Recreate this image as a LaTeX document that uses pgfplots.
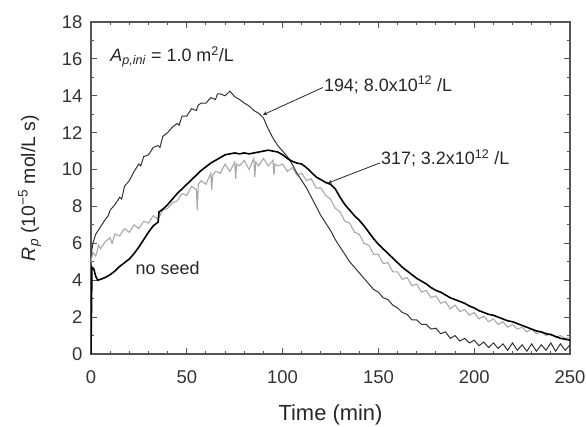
\documentclass[border=0pt]{standalone}
\usepackage{pgfplots}
\pgfplotsset{compat=1.18}
\usepackage{fontspec}
\setmainfont{Liberation Sans}
\definecolor{axgray}{HTML}{555555}
\definecolor{darkc}{HTML}{333333}
\definecolor{lightc}{HTML}{A8A8A8}
\begin{document}
\begin{tikzpicture}
\begin{axis}[
  scale only axis,
  width=479bp, height=332bp,
  xmin=0, xmax=250, ymin=0, ymax=18,
  xtick={0,50,...,250}, ytick={0,2,...,18},
  minor x tick num=4, minor y tick num=1,
  tick align=inside,
  major tick length=6bp, minor tick length=3.5bp,
  axis line style={axgray, line width=1.1pt},
  every tick/.style={axgray, line width=1pt},
  /pgf/number format/assume math mode=true,
  tick label style={font=\fontsize{18.5}{22}\selectfont, text=black!80},
  xticklabel style={yshift=-13bp},
  yticklabel style={xshift=-5bp},
  label style={text=black!85},
  xlabel={Time (min)},
  ylabel={\textit{R}\textsubscript{\textit{p}} (10\textsuperscript{−5} mol/L s)},
  xlabel style={font=\fontsize{22}{26}\selectfont, yshift=-14bp},
  ylabel style={font=\fontsize{19.5}{24}\selectfont, yshift=14bp},
  clip=true,
]
\coordinate (ll) at (rel axis cs:0,0);
\coordinate (ur) at (rel axis cs:1,1);
% 317; 3.2e12 (gray)
\addplot[lightc, line width=1.1pt] coordinates {
(0,5.0)(1,5.5)(2.5,5.3)(4,5.9)(5,5.7)(7.5,6.1)(10,6.3)(11,6.0)(12.5,6.5)(15,6.4)
(17.5,6.8)(20,6.6)(22.5,7.0)(25,6.8)(27.5,7.2)(30,7.1)(32.5,7.5)(35,7.3)(37.5,7.8)(40,7.9)
(42.5,8.2)(45,8.3)(47.5,8.7)(50,8.6)(52.5,9.1)(55,8.9)(55.5,7.8)(56,9.2)(57.5,9.4)(60,9.2)
(62.5,9.8)(63,8.9)(63.5,9.7)(65,9.9)(67.5,9.8)(70,10.3)(72.5,9.9)(75,10.4)(75.5,9.5)(76,10.3)
(77.5,10.2)(80,10.5)(82.5,10.0)(85,10.6)(85.5,9.6)(86,10.4)(87.5,10.2)(90,10.6)(92.5,10.2)(95,10.5)
(95.5,9.7)(96,10.3)(97.5,10.2)(100,10.3)(102.5,9.9)(105,10.1)(107.5,9.7)(110,9.8)(112.5,9.4)(115,9.5)
(117.5,9.0)(120,9.0)(122.5,8.6)(125,8.4)(127.5,7.9)(130,7.7)(132.5,7.2)(135,7.1)(137.5,6.6)(140,6.5)
(142.5,6.0)(145,5.9)(147.5,5.4)(150,5.4)(152.5,4.9)(155,4.95)(157.5,4.45)(160,4.45)(162.5,4.05)(165,4.15)
(167.5,3.7)(170,3.8)(172.5,3.35)(175,3.45)(177.5,3.05)(180,3.15)(182.5,2.75)(185,2.85)(187.5,2.45)(190,2.65)
(192.5,2.3)(195,2.4)(197.5,2.1)(200,2.25)(202.5,1.9)(205,2.05)(207.5,1.75)(210,1.9)(212.5,1.6)(215,1.75)
(217.5,1.45)(220,1.6)(222.5,1.35)(225,1.45)(227.5,1.2)(230,1.35)(232.5,1.1)(235,1.2)(237.5,1.0)(240,1.1)
(242.5,0.9)(245,1.0)(247.5,0.85)(250,0.9)
};
% 194; 8.0e12 (dark thin)
\addplot[darkc, line width=1.0pt] coordinates {
(0,5.3)(1,6.0)(2.5,6.5)(5,6.9)(7.5,7.3)(9,7.5)(10,7.8)(12.5,8.1)(15,8.5)(16,8.4)
(17.5,9.1)(20,9.4)(22.5,9.9)(25,10.3)(26,10.2)(27.5,10.7)(30,10.8)(32.5,11.2)(35,11.3)(36,11.2)
(37.5,11.8)(40,12.0)(42.5,12.3)(45,12.5)(46,12.4)(47.5,12.9)(50,12.9)(52.5,13.3)(55,13.2)(56,13.5)
(57.5,13.6)(60,13.6)(62.5,13.9)(65,13.8)(66,14.1)(67.5,14.1)(70,14.0)(72.5,14.25)(75,13.95)(77.5,13.8)
(80,13.6)(82.5,13.45)(85,13.2)(87.5,13.05)(90,12.8)(92.5,12.2)(95,11.7)(97.5,11.3)(100,11.0)(102.5,10.7)
(105,10.3)(107.5,9.8)(110,9.4)(112.5,9.0)(115,8.5)(117.5,8.0)(120,7.5)(122.5,7.1)(125,6.7)(127.5,6.2)
(130,5.8)(132.5,5.4)(135,5.0)(137.5,4.7)(140,4.4)(142.5,4.1)(145,3.8)(147.5,3.5)(150,3.35)(152.5,3.05)
(155,2.95)(157.5,2.65)(160,2.5)(162.5,2.25)(165,2.15)(167.5,1.85)(170,1.85)(172.5,1.6)(175,1.6)(177.5,1.35)
(180,1.4)(182.5,1.1)(185,1.2)(187.5,0.85)(190,1.0)(192.5,0.7)(195,0.85)(197.5,0.6)(200,0.75)(202.5,0.45)
(205,0.65)(207.5,0.35)(210,0.6)(212.5,0.3)(215,0.55)(217.5,0.2)(220,0.6)(222.5,0.2)(225,0.5)(227.5,0.15)
(230,0.55)(232.5,0.15)(235,0.5)(237.5,0.2)(240,0.6)(242.5,0.15)(245,0.55)(247.5,0.2)(250,0.5)
};
% no seed (thick black)
\addplot[black, line width=1.6pt] coordinates {
(0,0)(0.5,4.7)(1.5,4.6)(2.5,4.2)(3.5,4.0)(5,4.05)(7.5,4.15)(10,4.3)(12.5,4.5)(15,4.75)
(17.5,4.95)(20,5.15)(22.5,5.45)(25,5.8)(27.5,6.2)(30,6.6)(32.5,6.95)(35,7.15)(35.5,7.7)(37.5,7.85)
(40,8.1)(42.5,8.4)(45,8.7)(47.5,8.95)(50,9.2)(52.5,9.45)(55,9.7)(57.5,9.95)(60,10.15)(62.5,10.35)
(65,10.5)(67.5,10.65)(70,10.8)(72.5,10.85)(75,10.9)(77.5,10.85)(80,10.9)(82.5,10.85)(85,10.9)(87.5,10.95)
(90,11.0)(92.5,11.05)(95,11.0)(97.5,10.95)(100,10.8)(102.5,10.6)(105,10.45)(107.5,10.35)(110,10.3)(112.5,10.1)
(115,9.85)(117.5,9.6)(120,9.45)(122.5,9.3)(125,9.2)(127.5,8.95)(130,8.5)(132.5,8.1)(135,7.8)(137.5,7.5)
(140,7.25)(142.5,6.95)(145,6.6)(147.5,6.25)(150,5.95)(152.5,5.7)(155,5.45)(157.5,5.2)(160,4.95)(162.5,4.7)
(165,4.5)(167.5,4.3)(170,4.1)(172.5,3.95)(175,3.8)(177.5,3.6)(180,3.45)(182.5,3.35)(185,3.2)(187.5,3.05)
(190,2.95)(192.5,2.85)(195,2.75)(197.5,2.6)(200,2.5)(202.5,2.35)(205,2.25)(207.5,2.15)(210,2.1)(212.5,2.0)
(215,1.9)(217.5,1.8)(220,1.75)(222.5,1.65)(225,1.55)(227.5,1.45)(230,1.35)(232.5,1.25)(235,1.2)(237.5,1.1)
(240,1.05)(242.5,0.95)(245,0.85)(247.5,0.8)(250,0.75)
};
\node[anchor=west, font=\fontsize{18}{21}\selectfont, text=black!85, inner sep=0pt] at (axis cs:10,16.1)
  {\textit{A}\textsubscript{\textit{p,ini}} = 1.0 m\textsuperscript{2}/L};
\node[anchor=west, font=\fontsize{18}{21}\selectfont, text=black!85, inner sep=1pt] at (axis cs:121,14.6)
  {194; 8.0x10\textsuperscript{12} /L};
\draw[-stealth, black!85, line width=0.8pt] (axis cs:121,14.45) -- (axis cs:89.8,12.97);
\node[anchor=west, font=\fontsize{18}{21}\selectfont, text=black!85, inner sep=1pt] at (axis cs:150.8,10.6)
  {317; 3.2x10\textsuperscript{12} /L};
\draw[-stealth, black!85, line width=0.8pt] (axis cs:150.8,10.36) -- (axis cs:123.7,9.27);
\node[font=\fontsize{18}{21}\selectfont, text=black!85] at (axis cs:40,4.66) {no seed};
\end{axis}
\pgfresetboundingbox
\path[use as bounding box] ([xshift=-91bp,yshift=-73bp]ll) rectangle ([xshift=16bp,yshift=22bp]ur);
\end{tikzpicture}
\end{document}
